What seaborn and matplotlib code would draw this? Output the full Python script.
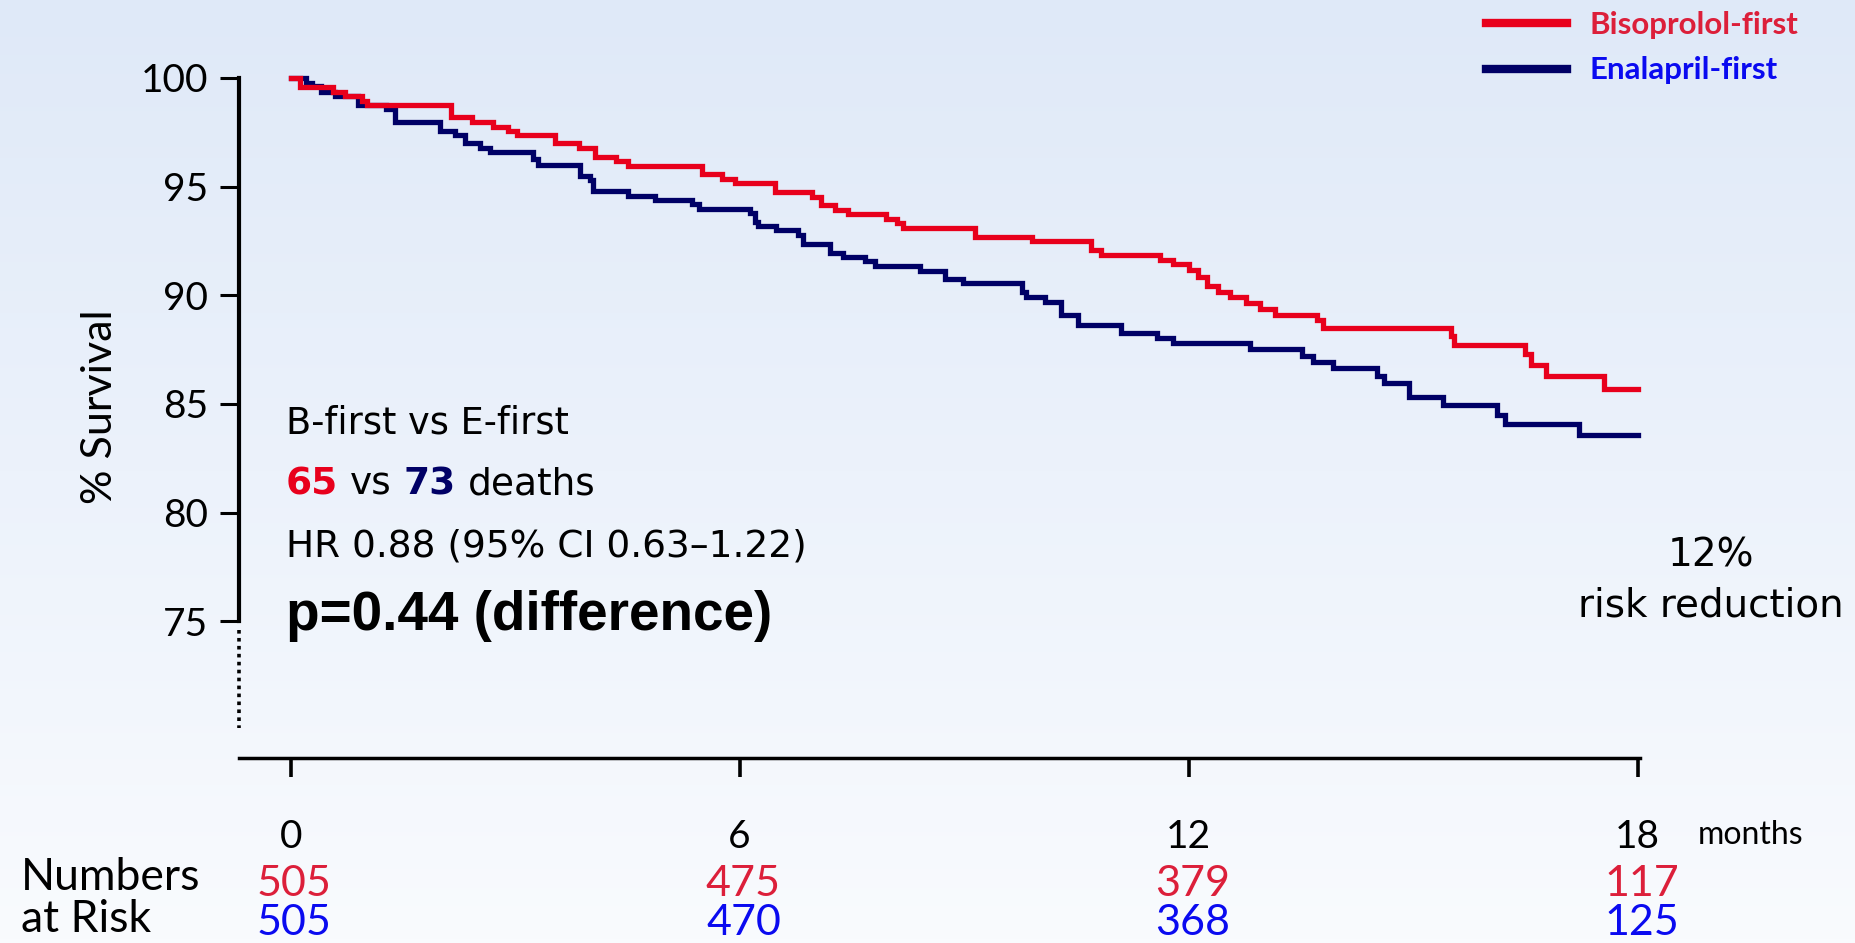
import numpy as np
import pandas as pd
import matplotlib
matplotlib.use("Agg")
import matplotlib.pyplot as plt
import matplotlib.transforms as mtransforms
from matplotlib.colors import LinearSegmentedColormap
from matplotlib.lines import Line2D
import seaborn as sns

# ---------------- data ----------------
groups = ["Bisoprolol-first", "Enalapril-first"]

bis_months = [0, 0.125, 0.57, 0.725, 0.95, 1.02, 2.14, 2.42, 2.71, 2.91,
              3.03, 3.53, 3.85, 4.07, 4.35, 4.51, 5.50, 5.77, 5.94, 6.47,
              6.96, 7.09, 7.27, 7.45, 7.96, 8.10, 8.18, 9.14, 9.90, 10.70,
              10.83, 11.61, 11.79, 12.01, 12.12, 12.24, 12.39, 12.55, 12.77, 12.95,
              13.15, 13.71, 13.80, 15.50, 15.54, 16.49, 16.58, 16.78, 17.55, 18.0]
bis_surv = [100, 99.57, 99.37, 99.17, 98.96, 98.77, 98.19, 97.98, 97.76, 97.56,
            97.36, 97.0, 96.79, 96.38, 96.18, 95.96, 95.58, 95.37, 95.17, 94.77,
            94.54, 94.16, 93.93, 93.73, 93.51, 93.31, 93.11, 92.70, 92.50, 92.08,
            91.85, 91.62, 91.44, 91.16, 90.86, 90.43, 90.17, 89.94, 89.66, 89.37,
            89.09, 88.86, 88.48, 88.13, 87.71, 87.28, 86.79, 86.29, 85.69, 85.69]

ena_months = [0, 0.20, 0.28, 0.41, 0.59, 0.90, 1.28, 1.39, 1.99, 2.19,
              2.33, 2.53, 2.66, 3.24, 3.31, 3.87, 4.00, 4.04, 4.51, 4.87,
              5.36, 5.45, 6.14, 6.20, 6.25, 6.49, 6.78, 6.85, 7.21, 7.38,
              7.67, 7.81, 8.41, 8.74, 8.99, 9.77, 9.83, 10.08, 10.30, 10.52,
              11.10, 11.57, 11.79, 12.82, 13.51, 13.66, 13.93, 14.51, 14.61, 14.94,
              15.40, 16.12, 16.22, 17.22, 18.0]
ena_surv = [100, 99.78, 99.63, 99.37, 99.17, 98.76, 98.56, 97.99, 97.57, 97.38,
            96.99, 96.79, 96.61, 96.26, 96.0, 95.49, 95.31, 94.81, 94.58, 94.39,
            94.19, 93.97, 93.77, 93.39, 93.19, 92.99, 92.78, 92.36, 91.96, 91.78,
            91.58, 91.35, 91.13, 90.74, 90.55, 90.17, 89.91, 89.71, 89.09, 88.63,
            88.25, 88.02, 87.79, 87.53, 87.22, 86.94, 86.64, 86.29, 85.98, 85.33,
            84.95, 84.49, 84.08, 83.57, 83.57]

month_ticks = [0, 6, 12, 18]
surv_ticks = [75, 80, 85, 90, 95, 100]
risk_bis = [505, 475, 379, 117]
risk_ena = [505, 470, 368, 125]

deaths_bis = 65
deaths_ena = 73
hr_text = "HR 0.88 (95% CI 0.63\u20131.22)"
p_text = "p=0.44 (difference)"

# ---------------- style ----------------
RED = "#E8001C"
NAVY = "#000066"
RED_TXT = "#DC1F3A"
BLUE_TXT = "#0A0AF0"
BODY = ["DejaVu Sans"]

plt.rcParams["font.family"] = ["Lato", "DejaVu Sans"]

W, H = 1856, 943
fig = plt.figure(figsize=(W / 100, H / 100), dpi=100)

# background gradient
bg = fig.add_axes([0, 0, 1, 1], zorder=0)
grad = np.linspace(0, 1, 256).reshape(-1, 1)
cmap = LinearSegmentedColormap.from_list("bg", ["#DFE9F8", "#F9FBFE"])
bg.imshow(grad, aspect="auto", cmap=cmap, extent=[0, 1, 0, 1], origin="upper")
bg.axis("off")

ax = fig.add_axes([239 / W, 0.19618, 1401 / W, 0.73033], zorder=1)
ax.patch.set_alpha(0)

df = pd.concat([
    pd.DataFrame({"month": bis_months, "surv": bis_surv, "group": groups[0]}),
    pd.DataFrame({"month": ena_months, "surv": ena_surv, "group": groups[1]}),
])

sns.lineplot(data=df, x="month", y="surv", hue="group",
             hue_order=[groups[1], groups[0]],
             palette={groups[0]: RED, groups[1]: NAVY},
             drawstyle="steps-post", linewidth=3.8, estimator=None,
             sort=False, legend=False, ax=ax)
for ln in ax.lines:
    ln.set_clip_on(False)
    ln.set_solid_joinstyle("miter")

ax.set_xlim(-0.69, 18.03)
ax.set_ylim(68.71, 100.4)

for s in ["top", "right"]:
    ax.spines[s].set_visible(False)
ax.spines["left"].set_bounds(75, 100)
ax.spines["left"].set_linewidth(3.0)
ax.spines["bottom"].set_linewidth(2.5)

ax.set_yticks(surv_ticks)
ax.set_xticks(month_ticks)
ax.tick_params(axis="y", length=14, width=2.2, labelsize=28, pad=8)
ax.tick_params(axis="x", length=14, width=2.6, labelsize=28, pad=30)
ax.set_xlabel("")
ax.set_ylabel("% Survival", fontsize=31)
ax.yaxis.set_label_coords(-0.0989, 0.51)
ax.yaxis.label.set_verticalalignment("center")

# dotted axis-break extension below 75
x_left = ax.get_xlim()[0]
ax.plot([x_left, x_left], [74.6, 70.1], color="black", lw=2.6,
        ls=(0, (1, 1.2)), clip_on=False)

# legend
handles = [Line2D([], [], color=RED, lw=6), Line2D([], [], color=NAVY, lw=6)]
leg = ax.legend(handles=handles, labels=groups, loc="upper left",
                bbox_to_anchor=(1486 / W, 1 - 11 / H), bbox_transform=fig.transFigure,
                frameon=False, handlelength=2.6, handletextpad=0.7,
                labelspacing=0.56, borderpad=0, borderaxespad=0,
                prop=dict(family="Lato", weight="bold", size=22.5))
leg.get_texts()[0].set_color(RED_TXT)
leg.get_texts()[1].set_color(BLUE_TXT)

# annotation block
tx = -0.063
ax.text(tx, 83.66, "B-first vs E-first", fontsize=26.5, family=BODY,
        va="baseline", ha="left")

fig.canvas.draw()
rend = fig.canvas.get_renderer()
parts = [(str(deaths_bis), RED, "bold"), ("vs", "black", "normal"),
         (str(deaths_ena), NAVY, "bold"), ("deaths", "black", "normal")]
xd = ax.transData.transform((tx, 80.85))[0]
gap = 12
for s, c, w in parts:
    xdata = ax.transData.inverted().transform((xd, 0))[0]
    t = ax.text(xdata, 80.85, s, color=c, fontsize=27, fontweight=w,
                family=BODY, va="baseline", ha="left")
    bb = t.get_window_extent(renderer=rend)
    xd = bb.x1 + gap

ax.text(tx, 78.0, hr_text, fontsize=27, family=BODY, va="baseline", ha="left")
ax.text(tx, 74.6, p_text, fontsize=39.5, fontweight="bold",
        family=["Liberation Sans", "DejaVu Sans"], va="baseline", ha="left")

ax.text(18.98, 77.54, "12%", fontsize=28, family=BODY, ha="center",
        va="baseline", clip_on=False)
ax.text(18.98, 75.24, "risk reduction", fontsize=28, family=BODY, ha="center",
        va="baseline", clip_on=False)

# numbers at risk
trans = mtransforms.blended_transform_factory(ax.transData, fig.transFigure)
for m, nb, ne in zip(month_ticks, risk_bis, risk_ena):
    ax.text(m + 0.05, 1 - 884 / H, str(nb), color=RED_TXT, fontsize=31,
            ha="center", va="center", transform=trans, clip_on=False)
    ax.text(m + 0.05, 1 - 923 / H, str(ne), color=BLUE_TXT, fontsize=31,
            ha="center", va="center", transform=trans, clip_on=False)

fig.text(21 / W, 1 - 877 / H, "Numbers", fontsize=32, ha="left", va="center")
fig.text(21 / W, 1 - 919 / H, "at Risk", fontsize=32, ha="left", va="center")
fig.text(1698 / W, 1 - 835 / H, "months", fontsize=23, ha="left", va="center")

fig.savefig("out.png", dpi=100)
